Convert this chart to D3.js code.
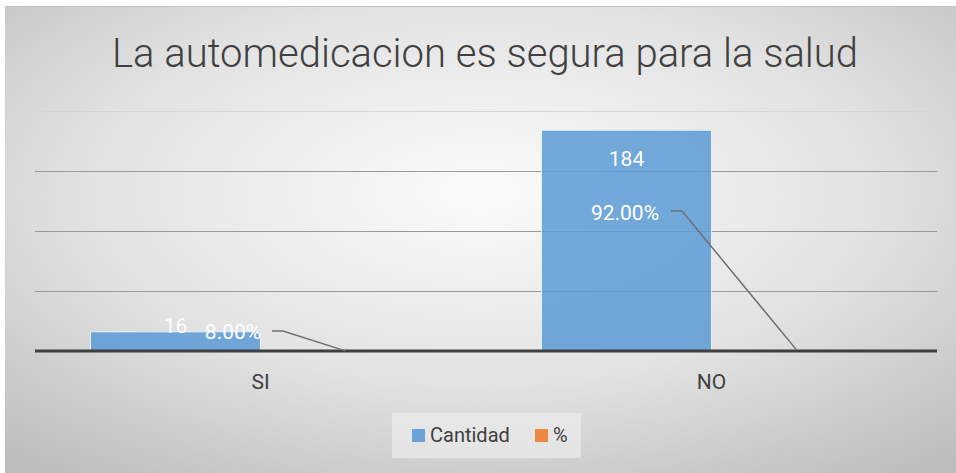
<!DOCTYPE html>
<html>
<head>
<meta charset="utf-8">
<script src="https://cdn.jsdelivr.net/npm/d3@7"></script>
<style>
  html, body { margin: 0; padding: 0; background: #fff; }
  svg { display: block; }
</style>
</head>
<body>
<svg id="chart"></svg>
<script>
const categories = ["SI", "NO"];
const cantidad = [16, 184];
const porcentaje = [0.08, 0.92];
const yTicks = [0, 50, 100, 150, 200];
const seriesNames = ["Cantidad", "%"];
const seriesColors = ["#5b9bd5", "#ed7d31"];

const width = 956;
const height = 473;
const margin = { top: 111, right: 19, bottom: 122, left: 35 };
const font = "Roboto, 'Liberation Sans', sans-serif";

const svg = d3.select("#chart").attr("width", width).attr("height", height);

// Background gradient
const defs = svg.append("defs");
const grad = defs
  .append("radialGradient")
  .attr("id", "bg")
  .attr("cx", "50%")
  .attr("cy", "40%")
  .attr("r", "75%");
grad.append("stop").attr("offset", "0%").attr("stop-color", "#fbfbfb");
grad.append("stop").attr("offset", "55%").attr("stop-color", "#e2e2e2");
grad.append("stop").attr("offset", "100%").attr("stop-color", "#bdbdbd");

svg
  .append("rect")
  .attr("x", 5)
  .attr("y", 6)
  .attr("width", width - 5)
  .attr("height", height - 6)
  .attr("fill", "url(#bg)");

svg
  .append("line")
  .attr("x1", 5)
  .attr("x2", width)
  .attr("y1", 6.5)
  .attr("y2", 6.5)
  .attr("stroke", "#c4c4c4");

// Title
svg
  .append("text")
  .text("La automedicacion es segura para la salud")
  .attr("x", 485)
  .attr("y", 67)
  .attr("text-anchor", "middle")
  .style("font-family", font)
  .style("font-weight", 300)
  .style("font-size", "40px")
  .style("fill", "#404040");

const x0 = d3
  .scaleBand()
  .domain(categories)
  .range([margin.left, width - margin.right]);

const innerPad = (x0.bandwidth() - 340) / 2;
const x1 = d3
  .scaleBand()
  .domain(seriesNames)
  .range([innerPad, x0.bandwidth() - innerPad]);

const y = d3
  .scaleLinear()
  .domain([0, 200])
  .range([height - margin.bottom, margin.top]);

// Gridlines
svg
  .append("g")
  .selectAll("line")
  .data(yTicks.slice(1))
  .enter()
  .append("line")
  .attr("x1", margin.left)
  .attr("x2", width - margin.right)
  .attr("y1", (d) => Math.round(y(d)) + 0.5)
  .attr("y2", (d) => Math.round(y(d)) + 0.5)
  .attr("stroke", (d, i) => (i === yTicks.length - 2 ? "#d4d4d4" : "#9a9a9a"))
  .attr("stroke-width", 1.2);

// Bars
const rows = categories.map((c, i) => ({
  cat: c,
  values: [cantidad[i], porcentaje[i]],
}));

const groups = svg
  .append("g")
  .selectAll("g")
  .data(rows)
  .enter()
  .append("g")
  .attr("transform", (d) => `translate(${x0(d.cat)},0)`);

groups
  .selectAll("rect")
  .data((d) => d.values.map((v, i) => ({ v, s: seriesNames[i], i })))
  .enter()
  .append("rect")
  .attr("x", (d) => x1(d.s))
  .attr("width", x1.bandwidth())
  .attr("y", (d) => y(d.v))
  .attr("height", (d) => y(0) - y(d.v))
  .attr("fill", (d) => seriesColors[d.i])
  .attr("fill-opacity", 0.85)
  .attr("stroke", (d) => (d.i === 0 ? "#e8f0f8" : "none"))
  .attr("stroke-width", 1);

// Axis line (drawn over the tiny % bars)
svg
  .append("line")
  .attr("x1", margin.left)
  .attr("x2", width - margin.right)
  .attr("y1", y(0))
  .attr("y2", y(0))
  .attr("stroke", "#3f3f3f")
  .attr("stroke-width", 3.2);

// Category labels
svg
  .append("g")
  .selectAll("text")
  .data(categories)
  .enter()
  .append("text")
  .text((d) => d)
  .attr("x", (d) => x0(d) + x0.bandwidth() / 2)
  .attr("y", y(0) + 38)
  .attr("text-anchor", "middle")
  .style("font-family", font)
  .style("font-size", "21px")
  .style("fill", "#404040");

// Cantidad labels
const labelY = [y(0) - 18, y(cantidad[1]) + 36];
groups
  .append("text")
  .text((d) => d.values[0])
  .attr("x", x1("Cantidad") + x1.bandwidth() / 2)
  .attr("y", (d, i) => labelY[i])
  .attr("text-anchor", "middle")
  .style("font-family", font)
  .style("font-size", "21px")
  .style("fill", "#ffffff");

// % labels with leader lines
const pctLabelPos = [
  { x: 233, y: 339, lineY: 331 },
  { x: 625, y: 220, lineY: 211 },
];
const fmt = d3.format(".2%");
svg
  .append("g")
  .selectAll("text")
  .data(rows)
  .enter()
  .append("text")
  .text((d) => fmt(d.values[1]))
  .attr("x", (d, i) => pctLabelPos[i].x)
  .attr("y", (d, i) => pctLabelPos[i].y)
  .attr("text-anchor", "middle")
  .style("font-family", font)
  .style("font-size", "21px")
  .style("fill", "#ffffff");

svg
  .append("g")
  .selectAll("path")
  .data(rows)
  .enter()
  .append("path")
  .attr("d", (d, i) => {
    const sx = i === 0 ? 272 : 671;
    const sy = pctLabelPos[i].lineY;
    const tx = x0(d.cat) + x1("%") + x1.bandwidth() / 2;
    const ty = y(d.values[1]);
    return `M${sx},${sy}H${sx + 11}L${tx},${ty}`;
  })
  .attr("fill", "none")
  .attr("stroke", "#6f6f6f")
  .attr("stroke-width", 1.5);

// Legend
const legend = svg.append("g").attr("transform", "translate(392,413)");
legend
  .append("rect")
  .attr("width", 189)
  .attr("height", 45)
  .attr("fill", "#f0f0f0")
  .attr("fill-opacity", 0.6);

const legendX = [20, 143];
seriesNames.forEach((name, i) => {
  legend
    .append("rect")
    .attr("x", legendX[i])
    .attr("y", 16)
    .attr("width", 13)
    .attr("height", 13)
    .attr("fill", seriesColors[i])
    .attr("fill-opacity", 0.9);
  legend
    .append("text")
    .text(name)
    .attr("x", legendX[i] + 18)
    .attr("y", 29)
    .style("font-family", font)
    .style("font-size", "20px")
    .style("fill", "#404040");
});
</script>
</body>
</html>
